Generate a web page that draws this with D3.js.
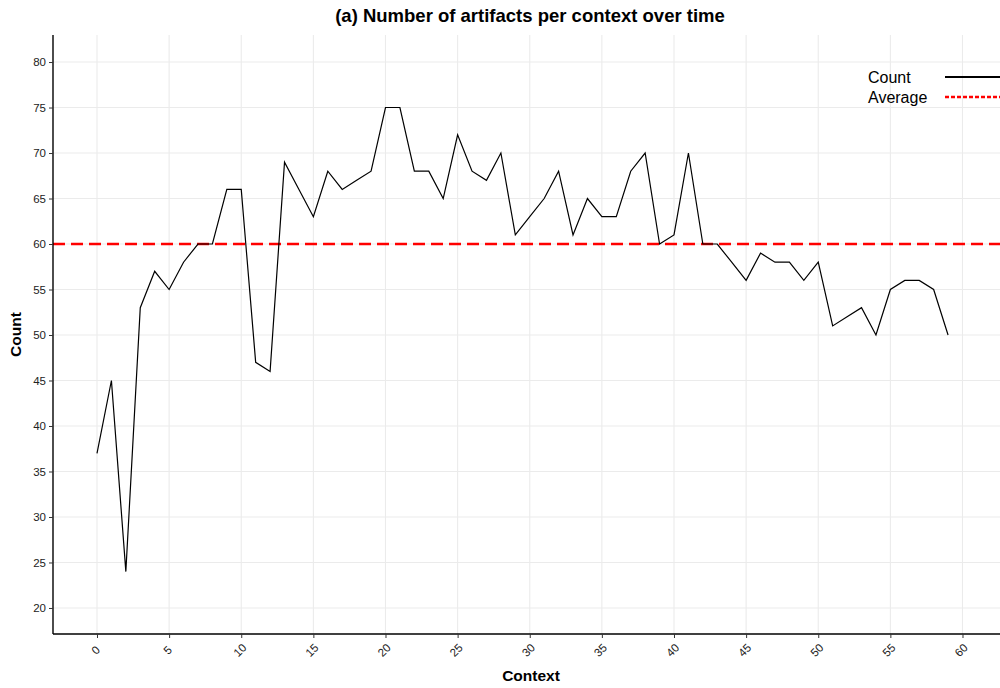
<!DOCTYPE html>
<html><head><meta charset="utf-8">
<script src="https://cdn.jsdelivr.net/npm/d3@7"></script>
<style>body{margin:0;background:#fff;} svg{display:block;font-family:"Liberation Sans",Arial,sans-serif;}</style>
</head><body>
<svg id="c" width="1000" height="688"></svg>
<script>
const contexts = d3.range(0, 60);
const counts = [37,45,24,53,57,55,58,60,60,66,66,47,46,69,66,63,68,66,67,68,
                75,75,68,68,65,72,68,67,70,61,63,65,68,61,65,63,63,68,70,60,
                61,70,60,60,58,56,59,58,58,56,58,51,52,53,50,55,56,56,55,50];
const averageValue = 60;
const xTicks = d3.range(0, 61, 5);
const yTicks = d3.range(20, 81, 5);
const legendLabels = ["Count", "Average"];

const svg = d3.select("#c");
const pL = 53, pR = 1000, pT = 35, pB = 634;
const x = d3.scaleLinear().domain([-3.05, 62.6]).range([pL, pR]);
const y = d3.scaleLinear().domain([17.14, 82.97]).range([pB, pT]);

// grid
svg.append("g").selectAll("line").data(xTicks).join("line")
  .attr("x1", d => x(d)).attr("x2", d => x(d)).attr("y1", pT).attr("y2", pB)
  .attr("stroke", "#ebebeb").attr("stroke-width", 1.1);
svg.append("g").selectAll("line").data(yTicks).join("line")
  .attr("x1", pL).attr("x2", pR).attr("y1", d => y(d)).attr("y2", d => y(d))
  .attr("stroke", "#ebebeb").attr("stroke-width", 1.1);

// average line
svg.append("line").attr("x1", pL).attr("x2", pR)
  .attr("y1", y(averageValue)).attr("y2", y(averageValue))
  .attr("stroke", "#ff0000").attr("stroke-width", 2.4).attr("stroke-dasharray", "12,6");

// count line
const line = d3.line().x((d, i) => x(contexts[i])).y(d => y(d));
svg.append("path").datum(counts).attr("d", line)
  .attr("fill", "none").attr("stroke", "#000").attr("stroke-width", 1.2);

// axes
const yAxis = svg.append("g").attr("transform", `translate(${pL},0)`)
  .call(d3.axisLeft(y).tickValues(yTicks).tickSize(4).tickPadding(3));
yAxis.select(".domain").attr("stroke", "#000").attr("stroke-width", 1.4).attr("d", `M0,${pT}V${pB}`);
yAxis.selectAll(".tick line").attr("stroke", "#333").attr("stroke-width", 1);
yAxis.selectAll(".tick text").attr("font-size", 11.5).attr("fill", "#222")
  .attr("font-family", "Liberation Sans, Arial, sans-serif");

const xAxis = svg.append("g").attr("transform", `translate(0,${pB})`)
  .call(d3.axisBottom(x).tickValues(xTicks).tickSize(4));
xAxis.select(".domain").attr("stroke", "#000").attr("stroke-width", 1.4).attr("d", `M${pL},0H${pR}`);
xAxis.selectAll(".tick line").attr("stroke", "#333").attr("stroke-width", 1);
xAxis.selectAll(".tick text").attr("font-size", 11.5).attr("fill", "#222")
  .attr("font-family", "Liberation Sans, Arial, sans-serif")
  .attr("text-anchor", "middle").attr("y", 0).attr("dy", 0)
  .attr("transform", "translate(1,19) rotate(-45)");

// title & axis titles
svg.append("text").attr("x", 530).attr("y", 22).attr("text-anchor", "middle")
  .attr("font-size", 18.5).attr("font-weight", "bold").text("(a) Number of artifacts per context over time");
svg.append("text").attr("x", 531).attr("y", 681).attr("text-anchor", "middle")
  .attr("font-size", 15.5).attr("font-weight", "bold").text("Context");
svg.append("text").attr("transform", `translate(21,${(pT+pB)/2}) rotate(-90)`).attr("text-anchor", "middle")
  .attr("font-size", 15.5).attr("font-weight", "bold").text("Count");

// legend
const lg = svg.append("g");
lg.append("text").attr("x", 868).attr("y", 83).attr("font-size", 16).text(legendLabels[0]);
lg.append("text").attr("x", 868).attr("y", 103).attr("font-size", 16).text(legendLabels[1]);
lg.append("line").attr("x1", 945).attr("x2", 1000).attr("y1", 77).attr("y2", 77)
  .attr("stroke", "#000").attr("stroke-width", 2.2);
lg.append("line").attr("x1", 945).attr("x2", 1000).attr("y1", 97).attr("y2", 97)
  .attr("stroke", "#ff0000").attr("stroke-width", 2.4).attr("stroke-dasharray", "4,2");
</script>
</body></html>
